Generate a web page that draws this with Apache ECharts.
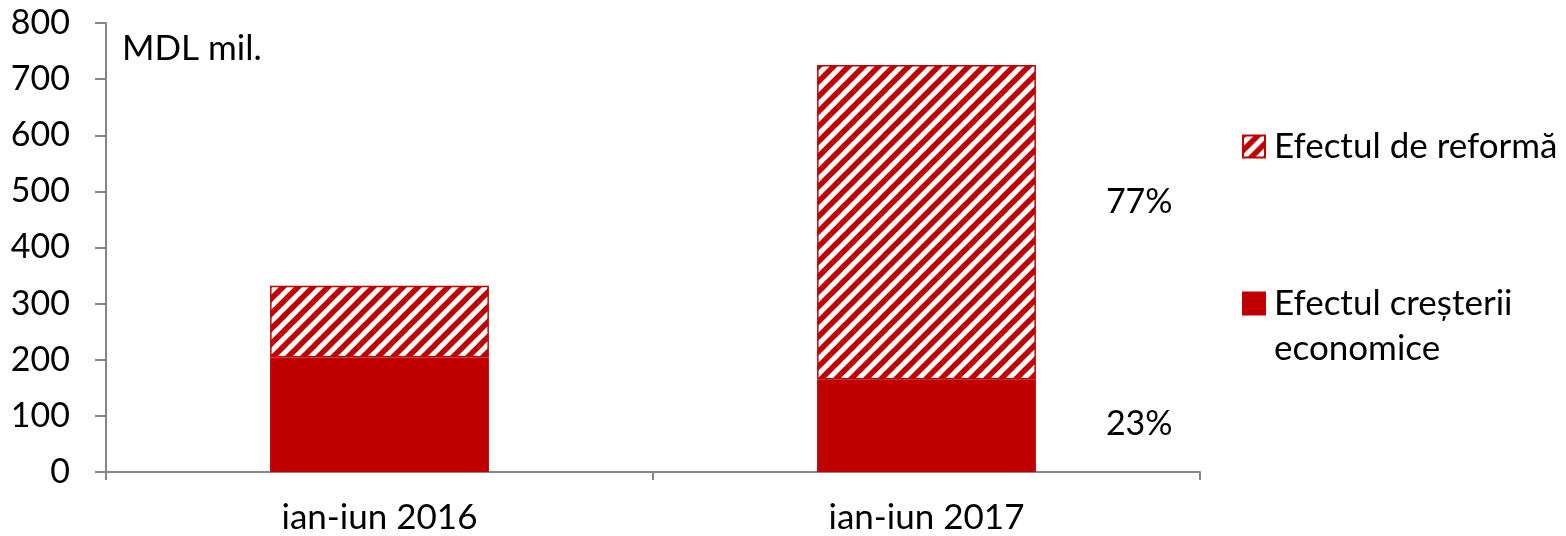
<!DOCTYPE html>
<html>
<head>
<meta charset="utf-8">
<script src="https://cdn.jsdelivr.net/npm/echarts@6/dist/echarts.min.js"></script>
<style>
html,body{margin:0;padding:0;background:#fff;}
#chart{width:1566px;height:536px;}
</style>
</head>
<body>
<div id="chart"></div>
<script>
const categories = ['ian-iun 2016', 'ian-iun 2017'];
const growthValues = [204, 165];
const reformValues = [128, 560];
const yTicks = [0, 100, 200, 300, 400, 500, 600, 700, 800];
const seriesNames = ['Efectul creșterii economice', 'Efectul de reformă'];
const unitLabel = 'MDL mil.';
const labelledIndex = 1;

const RED = '#C00000';
const FONT = 'Lato';

function makeHatch() {
  const s = 15;
  const c = document.createElement('canvas');
  c.width = s; c.height = s;
  const g = c.getContext('2d');
  g.fillStyle = '#ffffff';
  g.fillRect(0, 0, s, s);
  g.strokeStyle = RED;
  g.lineWidth = 5.5;
  g.lineCap = 'square';
  const segs = [[-2, s + 2, s + 2, -2], [-2, 2, 2, -2], [s - 2, s + 2, s + 2, s - 2]];
  segs.forEach(p => { g.beginPath(); g.moveTo(p[0], p[1]); g.lineTo(p[2], p[3]); g.stroke(); });
  return c;
}
const hatch = { image: makeHatch(), repeat: 'repeat' };

const totals = categories.map((_, i) => growthValues[i] + reformValues[i]);
function pct(v, i) { return Math.round(v / totals[i] * 100) + '%'; }

const labelStyle = { color: '#000', fontFamily: FONT, fontSize: 34 };

const chart = echarts.init(document.getElementById('chart'), null, { renderer: 'canvas' });
chart.setOption({
  animation: false,
  backgroundColor: '#fff',
  grid: { left: 106, right: 366, top: 23, bottom: 64, containLabel: false },
  title: {
    text: unitLabel, left: 117, top: 26,
    textStyle: { fontFamily: FONT, fontSize: 35, fontWeight: 'normal', color: '#000' }
  },
  legend: {
    orient: 'vertical', left: 1237, top: 119, itemGap: 67,
    itemWidth: 22, itemHeight: 22, icon: 'rect',
    data: [seriesNames[1], seriesNames[0]],
    formatter: n => n === seriesNames[0] ? '\nEfectul creșterii\neconomice' : n,
    textStyle: { fontFamily: FONT, fontSize: 35, color: '#000', lineHeight: 45, padding: [0, 0, 0, 4] }
  },
  xAxis: {
    type: 'category', data: categories,
    axisLine: { lineStyle: { color: '#868686', width: 2 } },
    axisTick: { show: true, length: 8, lineStyle: { color: '#868686', width: 2 } },
    axisLabel: { fontFamily: FONT, fontSize: 35, color: '#000', margin: 28 }
  },
  yAxis: {
    type: 'value', min: yTicks[0], max: yTicks[yTicks.length - 1], interval: yTicks[1] - yTicks[0],
    axisLine: { show: true, lineStyle: { color: '#868686', width: 2 } },
    axisTick: { show: true, length: 11, lineStyle: { color: '#868686', width: 2 } },
    splitLine: { show: false },
    axisLabel: { fontFamily: FONT, fontSize: 34, color: '#000', margin: 36 }
  },
  series: [
    {
      name: seriesNames[0], type: 'bar', stack: 'total', barWidth: '40%',
      itemStyle: { color: RED, borderColor: RED, borderWidth: 1 },
      data: growthValues.map((v, i) => i === labelledIndex ? {
        value: v,
        label: Object.assign({ show: true, position: 'right', distance: 70, offset: [0, -2], formatter: () => pct(v, i) }, labelStyle)
      } : v)
    },
    {
      name: seriesNames[1], type: 'bar', stack: 'total', barWidth: '40%',
      itemStyle: { color: hatch, borderColor: RED, borderWidth: 1.5 },
      data: reformValues.map((v, i) => i === labelledIndex ? {
        value: v,
        label: Object.assign({ show: true, position: 'right', distance: 70, offset: [0, -20], formatter: () => pct(v, i) }, labelStyle)
      } : v)
    }
  ]
});
</script>
</body>
</html>
